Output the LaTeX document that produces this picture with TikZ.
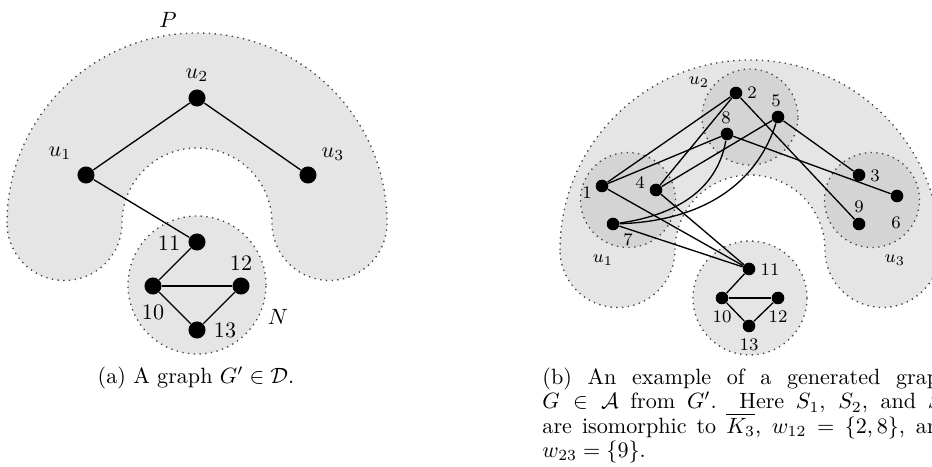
\documentclass[tikz,border=0pt]{standalone}
\usepackage{amsmath,amssymb}
\usepackage{tikz}
\definecolor{shade}{gray}{0.9}
\definecolor{darkshade}{gray}{0.83}
% band with round ends, centre of the arcs at (#1,#2)
\newcommand{\horseshoe}[2]{%
\draw[region] ({#1-190},#2) arc[start angle=180,end angle=0,radius=190]
  arc[start angle=0,end angle=-180,radius=57.5]
  arc[start angle=0,end angle=180,radius=75]
  arc[start angle=0,end angle=-180,radius=57.5] -- cycle;}

\begin{document}
\begin{tikzpicture}[x=0.0159cm,y=0.0159cm,
  region/.style={fill=shade,draw=black!75,dotted,line width=0.6pt},
  part/.style={fill=darkshade,draw=black!75,dotted,line width=0.6pt},
  dot/.style={circle,fill=black,inner sep=0pt,minimum size=7.7pt},
  sdot/.style={circle,fill=black,inner sep=0pt,minimum size=5.7pt},
  lab/.style={inner sep=1pt},
  slab/.style={inner sep=1pt,font=\footnotesize},
  edge/.style={line width=0.6pt}]
\useasboundingbox (0,0) rectangle (932,466);

% (a) the graph G'
\horseshoe{197}{243}
\draw[region] (197,181) circle[radius=69];
\node[lab] (P) at (168,446) {$P$};
\node[lab] (N) at (278,149) {$N$};
\node[dot] (u1) at (86,291) {};
\node[dot] (u2) at (197,368) {};
\node[dot] (u3) at (308,291) {};
\node[dot] (a11) at (197,224) {};
\node[dot] (a10) at (153,180) {};
\node[dot] (a12) at (241,180) {};
\node[dot] (a13) at (197,136) {};
\node[lab] (lu1) at (60,313) {$u_1$};
\node[lab] (lu2) at (197,391) {$u_2$};
\node[lab] (lu3) at (333,312) {$u_3$};
\node[lab] (l11) at (169,223) {11};
\node[lab] (l10) at (153,154) {10};
\node[lab] (l12) at (241,203) {12};
\node[lab] (l13) at (225,136) {13};
\draw[edge] (u1)--(u2);
\draw[edge] (u2)--(u3);
\draw[edge] (u1)--(a11);
\draw[edge] (a11)--(a10);
\draw[edge] (a10)--(a12);
\draw[edge] (a10)--(a13);
\draw[edge] (a12)--(a13);
\node[anchor=base] (capa) at (196,82) {(a) A graph $G'\in\mathcal{D}$.};

% (b) the generated graph G
\horseshoe{750}{216}
\draw[part] (628,266) circle[radius=47.5];
\draw[part] (750,349) circle[radius=48];
\draw[part] (872,266) circle[radius=47.5];
\draw[region] (750,168) circle[radius=57];
\node[slab] (su1) at (603,206) {$u_1$};
\node[slab] (su2) at (699,384) {$u_2$};
\node[slab] (su3) at (895,206) {$u_3$};
\node[sdot] (b1) at (602,280) {};
\node[sdot] (b2) at (736,373) {};
\node[sdot] (b3) at (859,291) {};
\node[sdot] (b4) at (656,276) {};
\node[sdot] (b5) at (778,349) {};
\node[sdot] (b6) at (897,270) {};
\node[sdot] (b7) at (613,242) {};
\node[sdot] (b8) at (727,332) {};
\node[sdot] (b9) at (859,242) {};
\node[sdot] (b10) at (722,168) {};
\node[sdot] (b11) at (749,197) {};
\node[sdot] (b12) at (778,168) {};
\node[sdot] (b13) at (749,140) {};
\node[slab] (m1) at (587,273) {1};
\node[slab] (m2) at (752,373) {2};
\node[slab] (m3) at (875,290) {3};
\node[slab] (m4) at (640,283) {4};
\node[slab] (m5) at (776,365) {5};
\node[slab] (m6) at (896,243) {6};
\node[slab] (m7) at (628,226) {7};
\node[slab] (m8) at (726,348) {8};
\node[slab] (m9) at (859,259) {9};
\node[slab] (m10) at (722,149) {10};
\node[slab] (m11) at (770,196) {11};
\node[slab] (m12) at (778,149) {12};
\node[slab] (m13) at (749,121) {13};
\draw[edge] (b1)--(b2);
\draw[edge] (b1)--(b8);
\draw[edge] (b1)--(b11);
\draw[edge] (b4)--(b2);
\draw[edge] (b4)--(b5);
\draw[edge] (b4)--(b11);
\draw[edge] (b7)--(b11);
\draw[edge] (b7) to[out=8,in=-100] (b8);
\draw[edge] (b7) to[out=2,in=-108] (b5);
\draw[edge] (b2)--(b9);
\draw[edge] (b8)--(b6);
\draw[edge] (b5)--(b3);
\draw[edge] (b11)--(b10);
\draw[edge] (b10)--(b12);
\draw[edge] (b10)--(b13);
\draw[edge] (b12)--(b13);
\node[anchor=north west,inner sep=0pt,text width=185pt,align=justify,
  font={\fontsize{10}{11}\selectfont}] (capb) at (542,98.6)
  {(b) An example of a generated graph\linebreak
   $G\in\mathcal{A}$ from $G'$. Here $S_1$, $S_2$, and $S_3$\linebreak
   are isomorphic to $\overline{K_3}$, $w_{12}=\{2,8\}$, and\linebreak
   $w_{23}=\{9\}$.};
\end{tikzpicture}
\end{document}
